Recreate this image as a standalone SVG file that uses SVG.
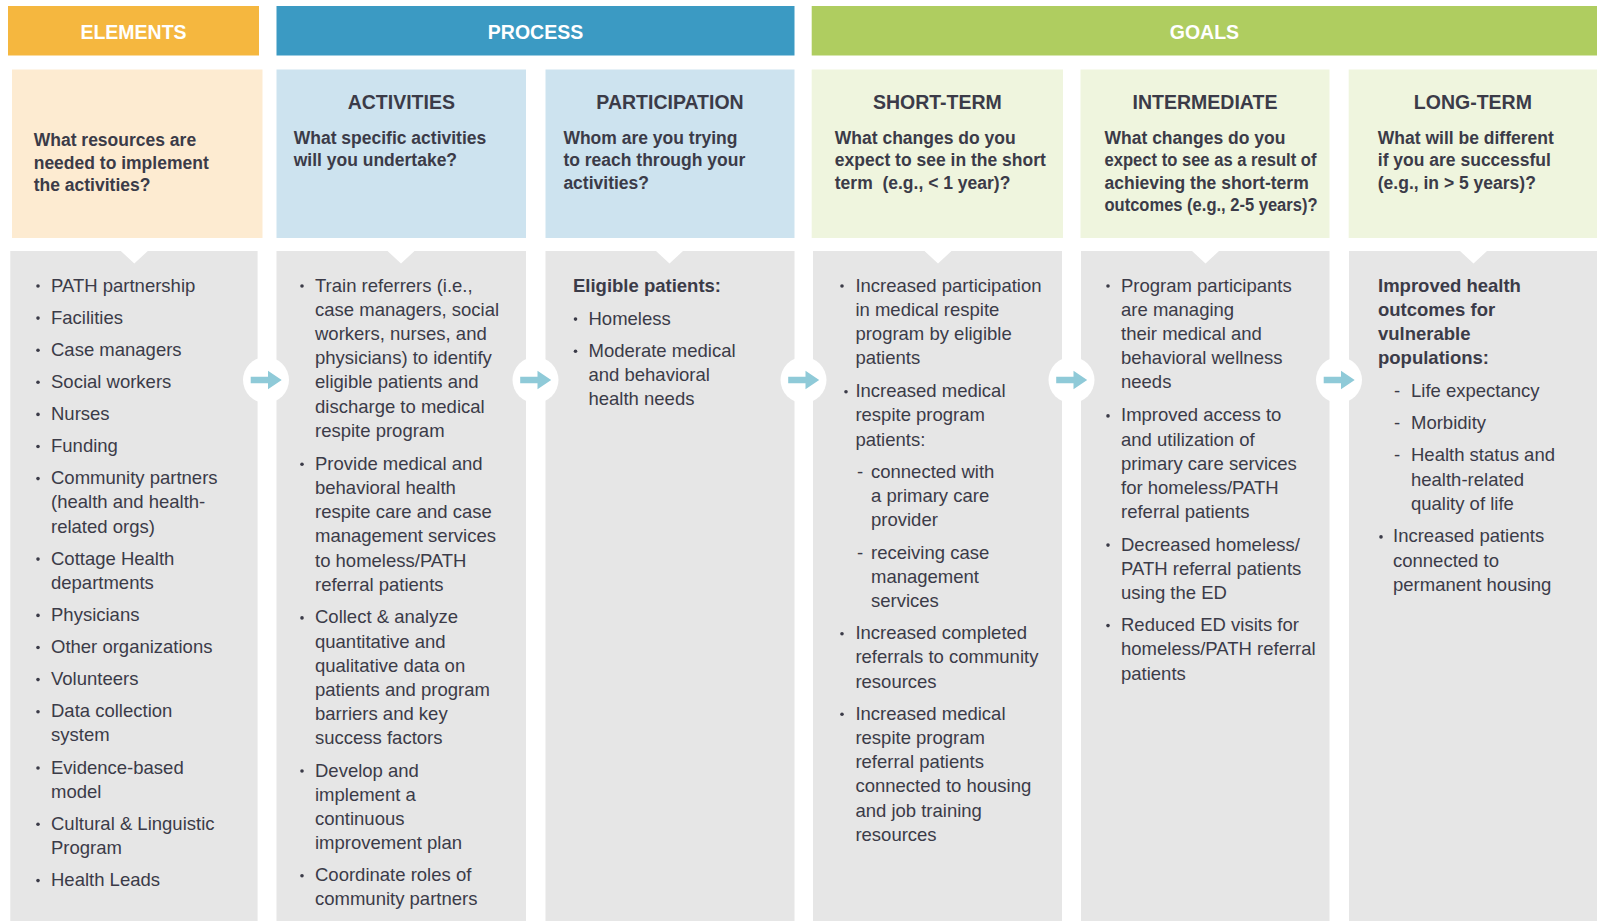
<svg xmlns="http://www.w3.org/2000/svg" xmlns:xlink="http://www.w3.org/1999/xlink" width="1597" height="921" viewBox="0 0 1597 921">
  <style>
    text { font-family: "Liberation Sans", Arial, sans-serif; fill: #3b3b48; }
    .band { font-size: 19.5px; font-weight: bold; fill: #ffffff; text-anchor: middle; }
    .ttl { font-size: 19.5px; font-weight: bold; text-anchor: middle; }
    .q { font-size: 17.5px; font-weight: bold; }
    .t { font-size: 18.5px; }
    .tb { font-size: 18.5px; font-weight: bold; }
    .panel { fill: #e6e6e6; }
    .hd-el { fill: #fdebd1; }
    .hd-pr { fill: #cde3ef; }
    .hd-go { fill: #eff5de; }
    .dot { fill: #3b3b48; }
  </style>
  <defs>
    <g id="flow-arrow">
      <circle r="23" fill="#ffffff"/>
      <path d="M-15.3,-3.3 H2 V-9.3 L15.7,0 L2,9.3 V3.3 H-15.3 Z" fill="#8fcad8"/>
    </g>
    <circle id="bullet" r="1.8" class="dot"/>
  </defs>

  <rect width="1597" height="921" fill="#ffffff"/>

  <!-- section bands -->
  <g id="band-elements">
    <rect x="8" y="6" width="251" height="49.5" fill="#f5b73f"/>
    <text class="band" x="133.5" y="39">ELEMENTS</text>
  </g>
  <g id="band-process">
    <rect x="276.5" y="6" width="518" height="49.5" fill="#3b9ac3"/>
    <text class="band" x="535.5" y="39">PROCESS</text>
  </g>
  <g id="band-goals">
    <rect x="811.7" y="6" width="785.3" height="49.5" fill="#afcd60"/>
    <text class="band" x="1204.4" y="39">GOALS</text>
  </g>

  <!-- column: resources -->
  <g id="col-elements">
    <rect class="hd-el" x="12" y="69.5" width="250.5" height="168.5"/>
    <text class="q" x="33.7" y="146">What resources are</text>
    <text class="q" x="33.7" y="168.5">needed to implement</text>
    <text class="q" x="33.7" y="191">the activities?</text>
    <path class="panel" d="M10.3,251 H120.8 L134.3,263.5 L147.8,251 H257.6 V921 H10.3 Z"/>
    <g transform="translate(0,1.5)">
      <use href="#bullet" x="38" y="284.5"/><text class="t" x="51" y="290">PATH partnership</text>
      <use href="#bullet" x="38" y="316.6"/><text class="t" x="51" y="322.1">Facilities</text>
      <use href="#bullet" x="38" y="348.7"/><text class="t" x="51" y="354.2">Case managers</text>
      <use href="#bullet" x="38" y="380.8"/><text class="t" x="51" y="386.3">Social workers</text>
      <use href="#bullet" x="38" y="412.9"/><text class="t" x="51" y="418.4">Nurses</text>
      <use href="#bullet" x="38" y="445"/><text class="t" x="51" y="450.5">Funding</text>
      <use href="#bullet" x="38" y="477.1"/><text class="t" x="51" y="482.6">Community partners</text>
      <text class="t" x="51" y="506.8">(health and health-</text>
      <text class="t" x="51" y="531">related orgs)</text>
      <use href="#bullet" x="38" y="557.6"/><text class="t" x="51" y="563.1">Cottage Health</text>
      <text class="t" x="51" y="587.3">departments</text>
      <use href="#bullet" x="38" y="613.9"/><text class="t" x="51" y="619.4">Physicians</text>
      <use href="#bullet" x="38" y="646"/><text class="t" x="51" y="651.5">Other organizations</text>
      <use href="#bullet" x="38" y="678.1"/><text class="t" x="51" y="683.6">Volunteers</text>
      <use href="#bullet" x="38" y="710.2"/><text class="t" x="51" y="715.7">Data collection</text>
      <text class="t" x="51" y="739.9">system</text>
      <use href="#bullet" x="38" y="766.5"/><text class="t" x="51" y="772">Evidence-based</text>
      <text class="t" x="51" y="796.2">model</text>
      <use href="#bullet" x="38" y="822.8"/><text class="t" x="51" y="828.3">Cultural &amp; Linguistic</text>
      <text class="t" x="51" y="852.5">Program</text>
      <use href="#bullet" x="38" y="879.1"/><text class="t" x="51" y="884.6">Health Leads</text>
    </g>
  </g>

  <!-- column: activities -->
  <g id="col-activities">
    <rect class="hd-pr" x="276.5" y="69.5" width="249.5" height="168.5"/>
    <text class="ttl" x="401.3" y="109">ACTIVITIES</text>
    <text class="q" x="293.7" y="143.5">What specific activities</text>
    <text class="q" x="293.7" y="166">will you undertake?</text>
    <path class="panel" d="M276.5,251 H387.5 L401,263.5 L414.5,251 H526 V921 H276.5 Z"/>
    <g transform="translate(0,1.5)">
      <use href="#bullet" x="302" y="284.5"/>
      <text class="t" x="315" y="290">Train referrers (i.e.,</text>
      <text class="t" x="315" y="314.2">case managers, social</text>
      <text class="t" x="315" y="338.4">workers, nurses, and</text>
      <text class="t" x="315" y="362.6">physicians) to identify</text>
      <text class="t" x="315" y="386.8">eligible patients and</text>
      <text class="t" x="315" y="411">discharge to medical</text>
      <text class="t" x="315" y="435.2">respite program</text>
      <use href="#bullet" x="302" y="462.8"/>
      <text class="t" x="315" y="468.3">Provide medical and</text>
      <text class="t" x="315" y="492.5">behavioral health</text>
      <text class="t" x="315" y="516.7">respite care and case</text>
      <text class="t" x="315" y="540.9">management services</text>
      <text class="t" x="315" y="565.1">to homeless/PATH</text>
      <text class="t" x="315" y="589.3">referral patients</text>
      <use href="#bullet" x="302" y="616.4"/>
      <text class="t" x="315" y="621.9">Collect &amp; analyze</text>
      <text class="t" x="315" y="646.1">quantitative and</text>
      <text class="t" x="315" y="670.3">qualitative data on</text>
      <text class="t" x="315" y="694.5">patients and program</text>
      <text class="t" x="315" y="718.7">barriers and key</text>
      <text class="t" x="315" y="742.9">success factors</text>
      <use href="#bullet" x="302" y="769.5"/>
      <text class="t" x="315" y="775">Develop and</text>
      <text class="t" x="315" y="799.2">implement a</text>
      <text class="t" x="315" y="823.4">continuous</text>
      <text class="t" x="315" y="847.6">improvement plan</text>
      <use href="#bullet" x="302" y="874.2"/>
      <text class="t" x="315" y="879.7">Coordinate roles of</text>
      <text class="t" x="315" y="903.9">community partners</text>
    </g>
  </g>

  <!-- column: participation -->
  <g id="col-participation">
    <rect class="hd-pr" x="545.5" y="69.5" width="249" height="168.5"/>
    <text class="ttl" x="670" y="109">PARTICIPATION</text>
    <text class="q" x="563.4" y="143.5">Whom are you trying</text>
    <text class="q" x="563.4" y="166">to reach through your</text>
    <text class="q" x="563.4" y="188.5">activities?</text>
    <path class="panel" d="M545.5,251 H656 L669.5,263.5 L683,251 H794.5 V921 H545.5 Z"/>
    <g transform="translate(0,1.5)">
      <text class="tb" x="573" y="290">Eligible patients:</text>
      <use href="#bullet" x="575.5" y="317.6"/>
      <text class="t" x="588.5" y="323.1">Homeless</text>
      <use href="#bullet" x="575.5" y="349.7"/>
      <text class="t" x="588.5" y="355.2">Moderate medical</text>
      <text class="t" x="588.5" y="379.4">and behavioral</text>
      <text class="t" x="588.5" y="403.6">health needs</text>
    </g>
  </g>

  <!-- column: short-term -->
  <g id="col-short-term">
    <rect class="hd-go" x="811.7" y="69.5" width="251.3" height="168.5"/>
    <text class="ttl" x="937.4" y="109">SHORT-TERM</text>
    <text class="q" x="834.8" y="143.5">What changes do you</text>
    <text class="q" x="834.8" y="166">expect to see in the short</text>
    <text class="q" x="834.8" y="188.5">term&#160; (e.g., &lt; 1 year)?</text>
    <path class="panel" d="M813,251 H924.5 L938,263.5 L951.5,251 H1062 V921 H813 Z"/>
    <g transform="translate(0,1.5)">
      <use href="#bullet" x="842" y="284.5"/>
      <text class="t" x="855.4" y="290">Increased participation</text>
      <text class="t" x="855.4" y="314.2">in medical respite</text>
      <text class="t" x="855.4" y="338.4">program by eligible</text>
      <text class="t" x="855.4" y="362.6">patients</text>
      <use href="#bullet" x="846" y="390.2"/>
      <text class="t" x="855.4" y="395.7">Increased medical</text>
      <text class="t" x="855.4" y="419.9">respite program</text>
      <text class="t" x="855.4" y="444.1">patients:</text>
      <text class="t" x="857" y="476.4">-</text>
      <text class="t" x="871" y="476.4">connected with</text>
      <text class="t" x="871" y="500.6">a primary care</text>
      <text class="t" x="871" y="524.8">provider</text>
      <text class="t" x="857" y="557">-</text>
      <text class="t" x="871" y="557">receiving case</text>
      <text class="t" x="871" y="581.2">management</text>
      <text class="t" x="871" y="605.4">services</text>
      <use href="#bullet" x="842" y="632.2"/>
      <text class="t" x="855.4" y="637.7">Increased completed</text>
      <text class="t" x="855.4" y="661.9">referrals to community</text>
      <text class="t" x="855.4" y="686.1">resources</text>
      <use href="#bullet" x="842" y="712.7"/>
      <text class="t" x="855.4" y="718.2">Increased medical</text>
      <text class="t" x="855.4" y="742.4">respite program</text>
      <text class="t" x="855.4" y="766.6">referral patients</text>
      <text class="t" x="855.4" y="790.8">connected to housing</text>
      <text class="t" x="855.4" y="815">and job training</text>
      <text class="t" x="855.4" y="839.2">resources</text>
    </g>
  </g>

  <!-- column: intermediate -->
  <g id="col-intermediate">
    <rect class="hd-go" x="1080.5" y="69.5" width="249" height="168.5"/>
    <text class="ttl" x="1205" y="109">INTERMEDIATE</text>
    <text class="q" x="1104.5" y="143.5">What changes do you</text>
    <text class="q" x="1104.5" y="166" textLength="212" lengthAdjust="spacingAndGlyphs">expect to see as a result of</text>
    <text class="q" x="1104.5" y="188.5">achieving the short-term</text>
    <text class="q" x="1104.5" y="211" textLength="213" lengthAdjust="spacingAndGlyphs">outcomes (e.g., 2-5 years)?</text>
    <path class="panel" d="M1081,251 H1192 L1205.5,263.5 L1219,251 H1329.5 V921 H1081 Z"/>
    <g transform="translate(0,1.5)">
      <use href="#bullet" x="1108" y="284.5"/>
      <text class="t" x="1121" y="290">Program participants</text>
      <text class="t" x="1121" y="314.2">are managing</text>
      <text class="t" x="1121" y="338.4">their medical and</text>
      <text class="t" x="1121" y="362.6">behavioral wellness</text>
      <text class="t" x="1121" y="386.8">needs</text>
      <use href="#bullet" x="1108" y="414.4"/>
      <text class="t" x="1121" y="419.9">Improved access to</text>
      <text class="t" x="1121" y="444.1">and utilization of</text>
      <text class="t" x="1121" y="468.3">primary care services</text>
      <text class="t" x="1121" y="492.5">for homeless/PATH</text>
      <text class="t" x="1121" y="516.7">referral patients</text>
      <use href="#bullet" x="1108" y="543.6"/>
      <text class="t" x="1121" y="549.1">Decreased homeless/</text>
      <text class="t" x="1121" y="573.3">PATH referral patients</text>
      <text class="t" x="1121" y="597.5">using the ED</text>
      <use href="#bullet" x="1108" y="624.1"/>
      <text class="t" x="1121" y="629.6">Reduced ED visits for</text>
      <text class="t" x="1121" y="653.8">homeless/PATH referral</text>
      <text class="t" x="1121" y="678">patients</text>
    </g>
  </g>

  <!-- column: long-term -->
  <g id="col-long-term">
    <rect class="hd-go" x="1348.7" y="69.5" width="248.3" height="168.5"/>
    <text class="ttl" x="1472.9" y="109">LONG-TERM</text>
    <text class="q" x="1377.8" y="143.5">What will be different</text>
    <text class="q" x="1377.8" y="166">if you are successful</text>
    <text class="q" x="1377.8" y="188.5">(e.g., in &gt; 5 years)?</text>
    <path class="panel" d="M1349,251 H1460 L1473.5,263.5 L1487,251 H1597 V921 H1349 Z"/>
    <g transform="translate(0,1.5)">
      <text class="tb" x="1378" y="290">Improved health</text>
      <text class="tb" x="1378" y="314.2">outcomes for</text>
      <text class="tb" x="1378" y="338.4">vulnerable</text>
      <text class="tb" x="1378" y="362.6">populations:</text>
      <text class="t" x="1394" y="395.2">-</text>
      <text class="t" x="1411" y="395.2">Life expectancy</text>
      <text class="t" x="1394" y="427.3">-</text>
      <text class="t" x="1411" y="427.3">Morbidity</text>
      <text class="t" x="1394" y="459.9">-</text>
      <text class="t" x="1411" y="459.9">Health status and</text>
      <text class="t" x="1411" y="484.1">health-related</text>
      <text class="t" x="1411" y="508.3">quality of life</text>
      <use href="#bullet" x="1381" y="535.4"/>
      <text class="t" x="1393" y="540.9">Increased patients</text>
      <text class="t" x="1393" y="565.1">connected to</text>
      <text class="t" x="1393" y="589.3">permanent housing</text>
    </g>
  </g>

  <!-- flow arrows between columns -->
  <g id="connectors">
    <use href="#flow-arrow" x="266" y="380"/>
    <use href="#flow-arrow" x="535.5" y="380"/>
    <use href="#flow-arrow" x="803.5" y="380"/>
    <use href="#flow-arrow" x="1071.5" y="380"/>
    <use href="#flow-arrow" x="1339" y="380"/>
  </g>
</svg>
